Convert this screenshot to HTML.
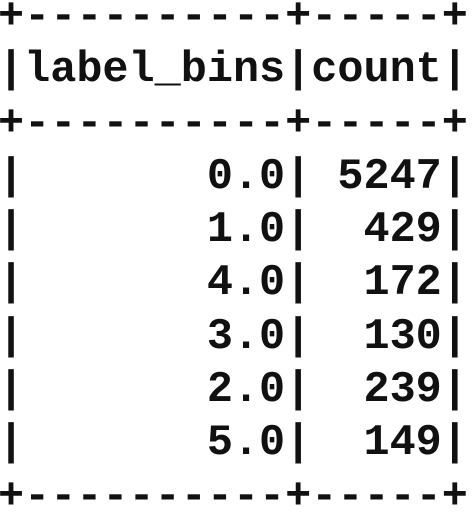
<!DOCTYPE html>
<html><head><meta charset="utf-8"><style>
html,body{margin:0;padding:0;background:#fff;width:472px;height:506px;overflow:hidden}
pre{position:absolute;left:-2px;top:-9px;margin:0;font-family:"Liberation Mono",monospace;font-weight:bold;font-size:43.5px;line-height:53.3px;color:#111}
</style></head><body>
<pre>+----------+-----+
|label_bins|count|
+----------+-----+
|       0.0| 5247|
|       1.0|  429|
|       4.0|  172|
|       3.0|  130|
|       2.0|  239|
|       5.0|  149|
+----------+-----+</pre>
</body></html>
